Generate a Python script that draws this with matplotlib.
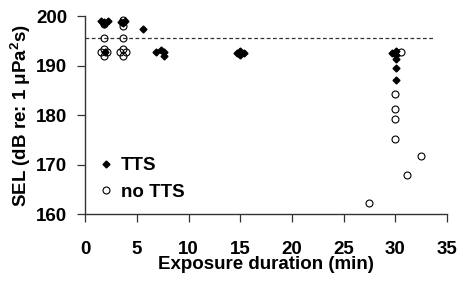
import matplotlib
matplotlib.use("Agg")
import matplotlib.pyplot as plt

plt.rcParams['font.family'] = ['Liberation Sans', 'DejaVu Sans']
plt.rcParams['font.weight'] = 'bold'
plt.rcParams['mathtext.fontset'] = 'custom'
plt.rcParams['mathtext.rm'] = 'Liberation Sans:bold'
plt.rcParams['mathtext.bf'] = 'Liberation Sans:bold'
plt.rcParams['mathtext.default'] = 'bf'

# TTS (filled diamonds)
tts_x = [1.5, 1.8, 2.2, 1.8, 1.9, 3.5, 3.9, 3.7, 5.6,
         6.9, 7.6, 7.3, 7.6, 14.7, 15.4, 15.0, 15.0,
         29.7, 30.1, 30.1, 30.1, 30.1, 30.1]
tts_y = [198.9, 198.7, 198.9, 198.4, 192.8, 198.8, 198.9, 198.5, 197.3,
         192.8, 192.8, 193.1, 191.9, 192.6, 192.6, 192.9, 192.1,
         192.6, 192.9, 192.1, 191.3, 189.6, 187.1]

# no TTS (open circles)
ntts_x = [1.8, 1.8, 1.5, 2.1, 1.8, 1.8,
          3.7, 3.7, 3.7, 3.4, 4.0, 3.7, 3.7,
          30.5, 30.0, 30.0, 30.0, 30.0, 27.4, 31.1, 32.5]
ntts_y = [198.4, 195.6, 192.8, 192.8, 193.3, 192.0,
          199.1, 197.9, 195.6, 192.8, 192.8, 193.3, 192.0,
          192.7, 184.2, 181.3, 179.2, 175.1, 162.2, 167.8, 171.8]

threshold = 195.5
thr_x = [0, 33.8]

fig = plt.figure(figsize=(4.6, 2.81), dpi=100)
ax = fig.add_axes([0.185, 0.238, 0.787, 0.705])

ax.plot(thr_x, [threshold, threshold], linestyle=(0, (3, 2)), color='#333333', lw=0.9)
ax.plot(tts_x, tts_y, linestyle='none', marker='D', ms=3.5, color='black', label='TTS')
ax.plot(ntts_x, ntts_y, linestyle='none', marker='o', ms=5, mfc='none', mec='black',
        mew=0.8, label='no TTS')

ax.set_xlim(0, 35)
ax.set_ylim(160, 200)
ax.set_xticks(range(0, 36, 5))
ax.set_yticks(range(160, 201, 10))
for s in ['top', 'right']:
    ax.spines[s].set_visible(False)
for s in ['left', 'bottom']:
    ax.spines[s].set_color('#333333')
    ax.spines[s].set_linewidth(1.0)
ax.tick_params(direction='out', length=6, width=0.9, color='#333333', labelsize=13.5)
ax.tick_params(axis='x', pad=13)
ax.tick_params(axis='y', pad=7)
ax.set_xlabel('Exposure duration (min)', fontsize=13.5, fontweight='bold', labelpad=-1)
ax.set_ylabel(r'SEL (dB re: 1 μPa$^{2}$s)', fontsize=13.5, fontweight='bold', labelpad=2)

ax.legend(loc='lower left', bbox_to_anchor=(0.0, 0.0), frameon=False,
          fontsize=13.5, handlelength=0.8, handletextpad=0.4, labelspacing=0.5,
          borderaxespad=0.3)

fig.savefig('out.png', dpi=100)
